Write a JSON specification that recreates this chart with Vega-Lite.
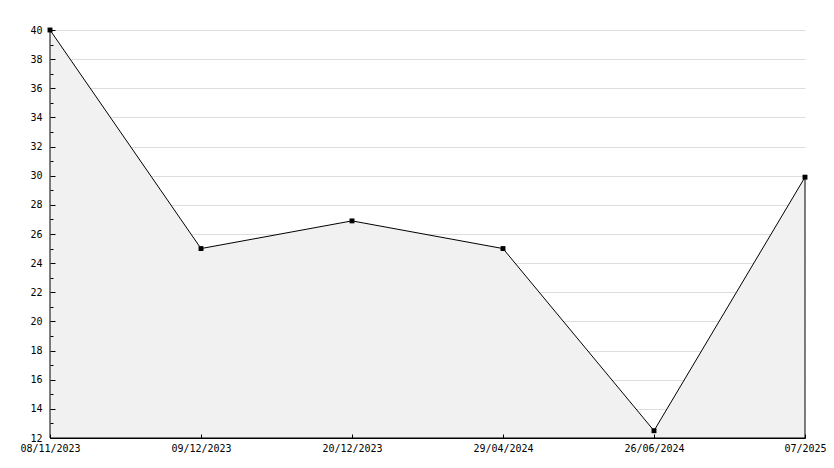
{
  "$schema": "https://vega.github.io/schema/vega-lite/v6.json",
  "width": 755,
  "height": 408,
  "autosize": {"type": "none"},
  "padding": {"left": 50, "top": 30, "right": 29, "bottom": 30},
  "background": "white",
  "config": {
    "view": {"stroke": null},
    "axis": {"labelFont": "DejaVu Sans Mono", "labelFontSize": 10, "labelColor": "#000", "domainColor": "#000", "tickColor": "#000", "title": null, "tickWidth": 1, "tickOpacity": 1}
  },
  "data": {
    "values": [
      {"date": "08/11/2023", "value": 40},
      {"date": "09/12/2023", "value": 25},
      {"date": "20/12/2023", "value": 26.9},
      {"date": "29/04/2024", "value": 25},
      {"date": "26/06/2024", "value": 12.5},
      {"date": "07/2025", "value": 29.9}
    ]
  },
  "resolve": {"axis": {"x": "independent", "y": "independent"}},
  "layer": [
    {
      "mark": {"type": "area", "color": "#f1f1f1", "stroke": "#000", "strokeWidth": 1},
      "encoding": {
        "x": {"field": "date", "type": "ordinal", "sort": null, "scale": {"type": "point", "padding": 0},
          "axis": {"orient": "bottom", "ticks": true, "tickSize": -4, "labels": false, "domain": false, "grid": false, "zindex": 1, "maxExtent": 0, "minExtent": 0}},
        "y": {"field": "value", "type": "quantitative", "scale": {"domain": [12, 40], "zero": false, "nice": false},
          "axis": {"orient": "left",
            "values": [12,13,14,15,16,17,18,19,20,21,22,23,24,25,26,27,28,29,30,31,32,33,34,35,36,37,38,39,40],
            "ticks": true, "labels": false, "domain": false, "grid": false, "zindex": 1, "maxExtent": 0, "minExtent": 0,
            "tickSize": {"condition": {"test": "datum.value % 2 === 0", "value": -5}, "value": -3}}},
        "y2": {"datum": 12}
      }
    },
    {
      "mark": {"type": "point", "shape": "square", "filled": true, "color": "#000", "size": 24, "opacity": 1},
      "encoding": {
        "x": {"field": "date", "type": "ordinal", "sort": null,
          "axis": {"orient": "bottom", "labelAngle": 0, "ticks": false, "labelPadding": 5, "grid": false, "domain": true, "zindex": 0}},
        "y": {"field": "value", "type": "quantitative",
          "axis": {"orient": "left", "values": [12,14,16,18,20,22,24,26,28,30,32,34,36,38,40], "ticks": false, "labelPadding": 8, "domain": true, "zindex": 0,
            "grid": true, "gridColor": "#dddddd",
            "gridOpacity": {"condition": {"test": "datum.value > 12", "value": 1}, "value": 0}}}
      }
    }
  ]
}
